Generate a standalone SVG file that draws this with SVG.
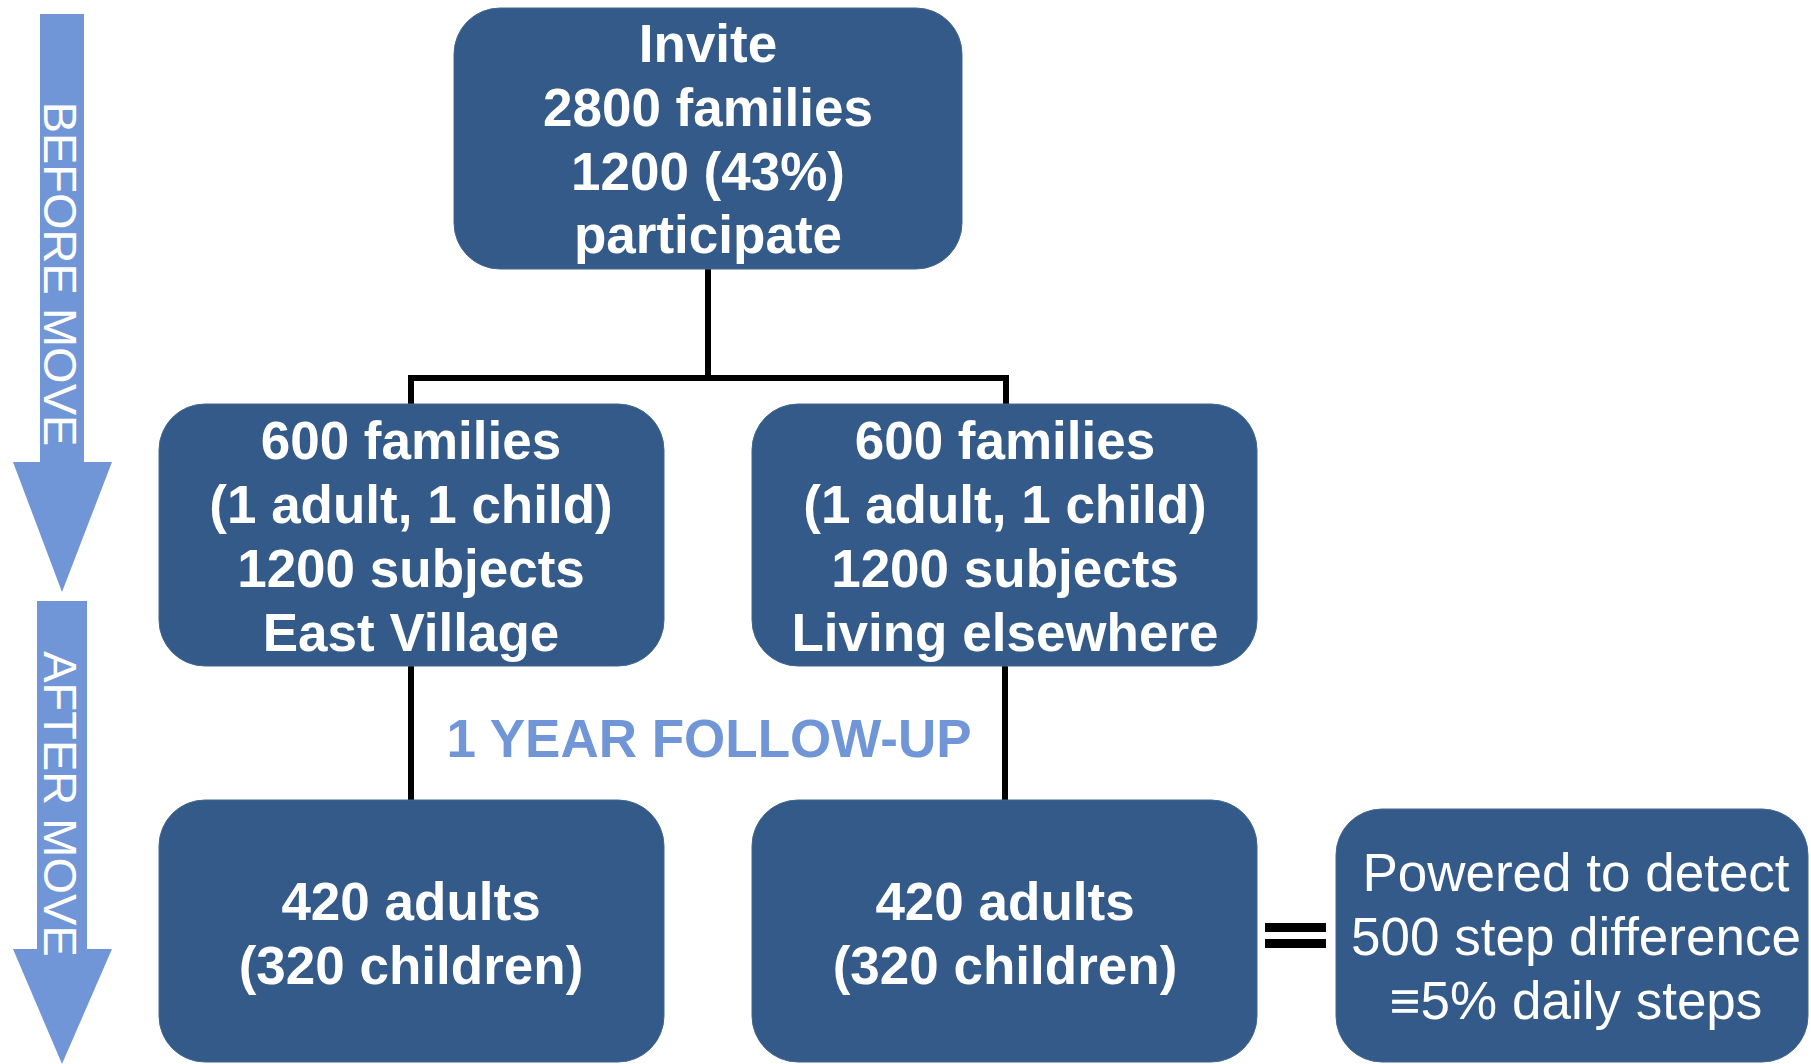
<svg xmlns="http://www.w3.org/2000/svg" width="1811" height="1064" viewBox="0 0 1811 1064">
<style>
.box{fill:#335a88;stroke:#44678f;stroke-width:1}
.bt{font-family:"Liberation Sans",Arial,sans-serif;font-weight:bold;font-size:53px;fill:#ffffff;text-anchor:middle}
.rt{font-family:"Liberation Sans",Arial,sans-serif;font-size:53px;fill:#ffffff;text-anchor:middle}
.at{font-family:"Liberation Sans",Arial,sans-serif;font-size:47px;fill:#ffffff;text-anchor:middle}
.arrow{fill:#7096d8}
.conn{stroke:#000000;stroke-width:6;fill:none}
.lbl{font-family:"Liberation Sans",Arial,sans-serif;font-weight:bold;font-size:53px;fill:#7096d8;text-anchor:middle}
</style>
<g id="arrow-before">
<polygon class="arrow" points="40,14 84,14 84,462 112,462 62,592 13,462 40,462"/>
<text class="at" transform="translate(44,274) rotate(90)">BEFORE MOVE</text>
</g>
<g id="arrow-after">
<polygon class="arrow" points="37,601 87,601 87,949 112,949 62,1064 13,949 37,949"/>
<text class="at" transform="translate(44,804) rotate(90)">AFTER MOVE</text>
</g>
<g id="connectors">
<polyline class="conn" points="708,269 708,378"/>
<polyline class="conn" points="411,404 411,378 1006,378 1006,404"/>
<line class="conn" x1="411" y1="666" x2="411" y2="800"/>
<line class="conn" x1="1005" y1="666" x2="1005" y2="800"/>
</g>
<g id="equals">
<rect x="1265" y="923" width="61" height="9" fill="#000000"/>
<rect x="1265" y="939" width="61" height="9" fill="#000000"/>
</g>
<g id="node-invite">
<rect class="box" x="454" y="8" width="508" height="261" rx="46" ry="46"/>
<text class="bt" x="708" y="62">Invite</text>
<text class="bt" x="708" y="126">2800 families</text>
<text class="bt" x="708" y="190">1200 (43%)</text>
<text class="bt" x="708" y="253">participate</text>
</g>
<g id="node-east-village">
<rect class="box" x="159" y="404" width="505" height="262" rx="46" ry="46"/>
<text class="bt" x="411" y="459">600 families</text>
<text class="bt" x="411" y="523">(1 adult, 1 child)</text>
<text class="bt" x="411" y="587">1200 subjects</text>
<text class="bt" x="411" y="651">East Village</text>
</g>
<g id="node-elsewhere">
<rect class="box" x="752" y="404" width="505" height="262" rx="46" ry="46"/>
<text class="bt" x="1005" y="459">600 families</text>
<text class="bt" x="1005" y="523">(1 adult, 1 child)</text>
<text class="bt" x="1005" y="587">1200 subjects</text>
<text class="bt" x="1005" y="651">Living elsewhere</text>
</g>
<g id="label-followup">
<text class="lbl" x="709" y="757">1 YEAR FOLLOW-UP</text>
</g>
<g id="node-ev-followup">
<rect class="box" x="159" y="800" width="505" height="262" rx="46" ry="46"/>
<text class="bt" x="411" y="920">420 adults</text>
<text class="bt" x="411" y="984">(320 children)</text>
</g>
<g id="node-else-followup">
<rect class="box" x="752" y="800" width="505" height="262" rx="46" ry="46"/>
<text class="bt" x="1005" y="920">420 adults</text>
<text class="bt" x="1005" y="984">(320 children)</text>
</g>
<g id="node-power">
<rect class="box" x="1336" y="809" width="472" height="253" rx="46" ry="46"/>
<text class="rt" x="1576" y="891">Powered to detect</text>
<text class="rt" x="1576" y="955">500 step difference</text>
<text class="rt" x="1576" y="1019">≡5% daily steps</text>
</g>
</svg>
